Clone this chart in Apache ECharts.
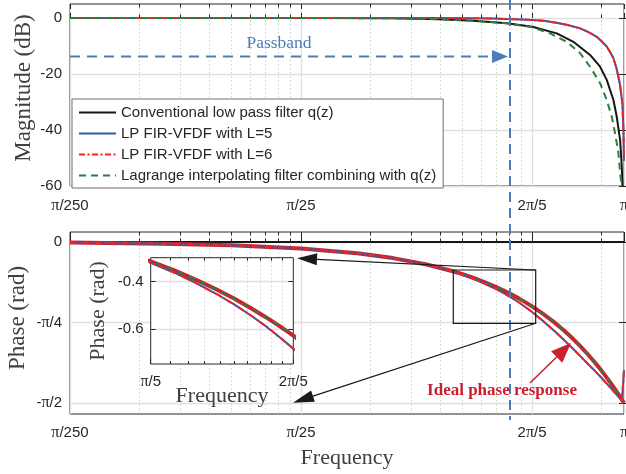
<!DOCTYPE html>
<html><head><meta charset="utf-8">
<script src="https://cdn.jsdelivr.net/npm/echarts@6/dist/echarts.min.js"></script>
<style>html,body{margin:0;padding:0;background:#fff}#c{width:626px;height:474px}</style>
</head><body><div id="c"></div>
<script>
// ---------------- data (frequencies as fractions of pi) ----------------
const xTickFreqs = [0.004, 0.04, 0.4, 1];
const xTickLabels = ['π/250', 'π/25', '2π/5', 'π'];
const magTickValues = [-60, -40, -20, 0];
const phaseTickValues = [-1.5708, -0.7854, 0];
const phaseTickLabels = ['-π/2', '-π/4', '0'];
const insetXTickFreqs = [0.2, 0.4];
const insetXTickLabels = ['π/5', '2π/5'];
const insetYTickValues = [-0.6, -0.4];

const nameConv = 'Conventional low pass filter q(z)';
const nameL5 = 'LP FIR-VFDF with L=5';
const nameL6 = 'LP FIR-VFDF with L=6';
const nameLag = 'Lagrange interpolating filter combining with q(z)';
const nameIdeal = 'Ideal phase response';

// magnitude (dB)
const magFreqConv = [0.004, 0.05, 0.1, 0.16, 0.223, 0.311, 0.401, 0.512, 0.604, 0.713, 0.788, 0.842, 0.9, 0.93, 0.962, 0.978, 0.985, 0.995];
const magConv     = [0, 0, -0.1, -0.46, -1.0, -1.9, -3.1, -5.5, -8.5, -13.2, -17.4, -22.1, -29.3, -35.2, -43.6, -53, -60, -75];
const magFreqVfdf = [0.004, 0.05, 0.1, 0.16, 0.22, 0.27, 0.31, 0.36, 0.40, 0.45, 0.51, 0.57, 0.646, 0.70, 0.762, 0.80, 0.842, 0.875, 0.90, 0.93, 0.962, 0.985, 0.995, 0.999];
const magL5       = [0, 0, 0, 0, -0.05, -0.2, -0.36, -0.5, -0.7, -1.0, -1.7, -2.5, -3.7, -5.0, -6.7, -8.3, -10.2, -12.5, -14.4, -18.2, -24, -31, -41, -51];
const magL6       = [0, 0, 0, 0, -0.05, -0.2, -0.36, -0.5, -0.7, -1.0, -1.7, -2.5, -3.7, -5.0, -6.7, -8.3, -10.2, -12.5, -14.4, -18.2, -24, -31, -41, -51];
const magFreqLag  = [0.004, 0.05, 0.1, 0.16, 0.223, 0.311, 0.401, 0.479, 0.565, 0.646, 0.713, 0.788, 0.842, 0.885, 0.915, 0.946, 0.962, 0.978, 0.99];
const magLag      = [0, 0, -0.1, -0.46, -1.0, -1.9, -3.3, -5.5, -8.5, -12.6, -17.4, -23.3, -29.3, -35.2, -41.2, -48.3, -55.5, -60, -70];

// phase (rad)
const phaseFreqConv = [0.004, 1];
const phaseConv     = [0, 0];
const phaseFreq  = [0.004, 0.01, 0.02, 0.04, 0.07, 0.1, 0.14, 0.18, 0.2, 0.225, 0.25, 0.275, 0.3, 0.325, 0.35, 0.375, 0.4, 0.45, 0.5, 0.55, 0.6, 0.65, 0.7, 0.75, 0.8, 0.85, 0.9, 0.95, 0.98, 1.0];
const phaseIdeal = [-0.006, -0.016, -0.031, -0.063, -0.110, -0.157, -0.220, -0.283, -0.314, -0.353, -0.393, -0.432, -0.471, -0.511, -0.550, -0.589, -0.628, -0.707, -0.785, -0.864, -0.942, -1.021, -1.100, -1.178, -1.257, -1.335, -1.414, -1.492, -1.539, -1.571];
const phaseLag   = [-0.006, -0.016, -0.031, -0.063, -0.110, -0.157, -0.220, -0.283, -0.314, -0.353, -0.393, -0.432, -0.471, -0.511, -0.550, -0.589, -0.628, -0.707, -0.785, -0.864, -0.942, -1.021, -1.100, -1.178, -1.257, -1.335, -1.414, -1.492, -1.539, -1.571];
const phaseFreqVfdf = [0.004, 0.01, 0.02, 0.04, 0.07, 0.1, 0.14, 0.18, 0.2, 0.225, 0.25, 0.275, 0.3, 0.325, 0.35, 0.375, 0.4, 0.45, 0.5, 0.55, 0.6, 0.65, 0.7, 0.75, 0.8, 0.85, 0.9, 0.95, 0.98, 0.998, 1.0];
const phaseL5 = [-0.006, -0.016, -0.031, -0.063, -0.110, -0.157, -0.221, -0.287, -0.320, -0.363, -0.407, -0.451, -0.496, -0.542, -0.588, -0.636, -0.683, -0.777, -0.868, -0.956, -1.039, -1.118, -1.192, -1.260, -1.327, -1.392, -1.454, -1.512, -1.547, -1.566, -1.25];
const phaseL6 = [-0.006, -0.016, -0.031, -0.063, -0.110, -0.157, -0.221, -0.287, -0.320, -0.363, -0.407, -0.451, -0.496, -0.542, -0.588, -0.636, -0.683, -0.777, -0.868, -0.956, -1.039, -1.118, -1.192, -1.260, -1.327, -1.392, -1.454, -1.512, -1.547, -1.566, -1.25];

// ---------------- helpers ----------------
const LOG = Math.log10;
const pairs = (fs, vs) => fs.map((f, i) => [LOG(f), vs[i]]);
const piRich = s => s.replace(/π/g, '{p|π}');
const nearest = (arr, v) => { let bi = 0, bd = Infinity; arr.forEach((a, i) => { const d = Math.abs(a - v); if (d < bd) { bd = d; bi = i; } }); return bi; };

const INK = '#262626';
const xMin = LOG(xTickFreqs[0]), xMax = LOG(xTickFreqs[3]);
const majorX = xTickFreqs.map(LOG);
const minorX = [];
for (let k = 2; k <= 9; k++) { minorX.push(LOG(0.004 * k)); minorX.push(LOG(0.04 * k)); }
minorX.push(LOG(0.8));
const insMajorX = insetXTickFreqs.map(LOG);
const insMinorX = [];
for (let k = 11; k <= 19; k++) insMinorX.push(LOG(0.02 * k));

const richP = { p: { fontFamily: 'Liberation Serif', fontSize: 16, color: INK } };

function xAx(o) {
  return {
    type: 'value', gridIndex: o.grid, min: o.min, max: o.max, position: o.pos || 'bottom', z: o.z || 0,
    axisLine: { show: false },
    axisTick: { show: true, inside: true, length: o.tick || 5, customValues: o.values, lineStyle: { color: INK, width: 1 } },
    axisLabel: o.labels ? { show: true, customValues: o.values, margin: o.margin || 12, color: INK, fontFamily: 'Liberation Sans', fontSize: o.fs || 15,
      formatter: v => piRich(o.labels[nearest(o.values, v)]), rich: richP } : { show: false },
    splitLine: o.split ? { show: true, lineStyle: o.split } : { show: false },
    name: o.name || '', nameLocation: 'middle', nameGap: o.nameGap || 0, nameMoveOverlap: false,
    nameTextStyle: { fontFamily: 'Liberation Serif', fontSize: o.nameSize || 22, color: '#404040', padding: o.namePad || 0 }
  };
}
function yAx(o) {
  return {
    type: 'value', gridIndex: o.grid, min: o.min, max: o.max, position: o.pos || 'left', z: o.z || 0,
    axisLine: { show: false },
    axisTick: { show: true, inside: true, length: 5, customValues: o.values, lineStyle: { color: INK, width: 1 } },
    axisLabel: o.fmt ? { show: true, customValues: o.values, margin: o.margin || 8, color: INK, fontFamily: 'Liberation Sans', fontSize: 15,
      formatter: o.fmt, rich: richP } : { show: false },
    splitLine: o.split ? { show: true, lineStyle: o.split } : { show: false },
    name: o.name || '', nameLocation: 'middle', nameGap: o.nameGap || 0, nameMoveOverlap: false,
    nameTextStyle: { fontFamily: 'Liberation Serif', fontSize: o.nameSize || 23, color: '#404040', padding: o.namePad || 0 }
  };
}
const majSplit = { color: '#e0e0e0', width: 1.3, type: 'solid' };
const minSplit = { color: '#cdcdcd', width: 1, type: [1.5, 2.5] };

const grids = [
  { left: 70, top: 4, width: 554, height: 182 },
  { left: 70, top: 232, width: 554, height: 182 },
  { left: 150.7, top: 257.7, width: 142.6, height: 106.3, z: 1 }
].map(g => Object.assign({ show: true, borderColor: INK, borderWidth: 1, backgroundColor: '#fff', containLabel: false, outerBoundsMode: 'none' }, g));

const xAxes = [];
const yAxes = [];
// top grid: x 0..3, y 0..1
xAxes.push(xAx({ grid: 0, min: xMin, max: xMax, values: majorX, labels: xTickLabels, split: majSplit, margin: 12 }));
xAxes.push(xAx({ grid: 0, min: xMin, max: xMax, values: minorX, split: minSplit, tick: 3.5 }));
xAxes.push(xAx({ grid: 0, min: xMin, max: xMax, values: majorX, pos: 'top' }));
xAxes.push(xAx({ grid: 0, min: xMin, max: xMax, values: minorX, pos: 'top', tick: 3.5 }));
yAxes.push(yAx({ grid: 0, min: -60, max: 5, values: magTickValues, fmt: v => String(Math.round(v)), split: majSplit, name: 'Magnitude (dB)', nameGap: 35, namePad: [0, 0, 0, 14] }));
yAxes.push(yAx({ grid: 0, min: -60, max: 5, values: magTickValues, pos: 'right' }));
// bottom grid: x 4..7, y 2..3
xAxes.push(xAx({ grid: 1, min: xMin, max: xMax, values: majorX, labels: xTickLabels, split: majSplit, margin: 11, name: 'Frequency', nameGap: 33 }));
xAxes.push(xAx({ grid: 1, min: xMin, max: xMax, values: minorX, split: minSplit, tick: 3.5 }));
xAxes.push(xAx({ grid: 1, min: xMin, max: xMax, values: majorX, pos: 'top' }));
xAxes.push(xAx({ grid: 1, min: xMin, max: xMax, values: minorX, pos: 'top', tick: 3.5 }));
yAxes.push(yAx({ grid: 1, min: -1.678, max: 0.0976, values: phaseTickValues, fmt: v => piRich(phaseTickLabels[nearest(phaseTickValues, v)]), split: majSplit, name: 'Phase (rad)', nameGap: 41, namePad: [0, 0, 0, 10] }));
yAxes.push(yAx({ grid: 1, min: -1.678, max: 0.0976, values: phaseTickValues, pos: 'right' }));
// inset: x 8..10, y 4..5
const iMin = insMajorX[0], iMax = insMajorX[1];
xAxes.push(xAx({ grid: 2, min: iMin, max: iMax, values: insMajorX, labels: insetXTickLabels, margin: 10, name: 'Frequency', nameGap: 21, nameSize: 22, z: 1 }));
xAxes.push(xAx({ grid: 2, min: iMin, max: iMax, values: insMinorX, split: minSplit, tick: 3, z: 1 }));
xAxes.push(xAx({ grid: 2, min: iMin, max: iMax, values: insMinorX, pos: 'top', tick: 3, z: 1 }));
yAxes.push(yAx({ grid: 2, min: -0.748, max: -0.2985, values: insetYTickValues, fmt: v => v.toFixed(1), split: majSplit, margin: 7, name: 'Phase (rad)', nameGap: 41, nameSize: 22, z: 1 }));
yAxes.push(yAx({ grid: 2, min: -0.748, max: -0.2985, values: insetYTickValues, pos: 'right', z: 1 }));

const C_BLACK = '#161616', C_BLUE = '#2a5caa', C_RED = '#ff1f1f', C_GREEN = '#2e7d3a', C_IDEAL = '#d0202e';
const DASH = [7, 5], DASHDOT = [6, 2.5, 2, 2.5];
function ln(name, xi, yi, data, color, width, type, z) {
  return { type: 'line', name, xAxisIndex: xi, yAxisIndex: yi, data, symbol: 'none', silent: true, clip: true, z: z || 2,
    lineStyle: { color, width, type: type || 'solid' }, itemStyle: { color }, animation: false };
}
const series = [
  ln(nameConv, 0, 0, pairs(magFreqConv, magConv), C_BLACK, 2),
  ln(nameL5, 0, 0, pairs(magFreqVfdf, magL5), C_BLUE, 2),
  ln(nameL6, 0, 0, pairs(magFreqVfdf, magL6), C_RED, 2, DASHDOT),
  ln(nameLag, 0, 0, pairs(magFreqLag, magLag), C_GREEN, 2, DASH),

  ln(nameConv, 4, 2, pairs(phaseFreqConv, phaseConv), C_BLACK, 2),
  ln(nameIdeal, 4, 2, pairs(phaseFreq, phaseIdeal), C_IDEAL, 4),
  ln(nameLag, 4, 2, pairs(phaseFreq, phaseLag), C_GREEN, 2, DASH),
  ln(nameL5, 4, 2, pairs(phaseFreqVfdf, phaseL5), C_BLUE, 2),
  ln(nameL6, 4, 2, pairs(phaseFreqVfdf, phaseL6), C_RED, 2, DASHDOT),

  ln(nameIdeal, 8, 4, pairs(phaseFreq, phaseIdeal), C_IDEAL, 4, 'solid', 5),
  ln(nameLag, 8, 4, pairs(phaseFreq, phaseLag), C_GREEN, 2, DASH, 5),
  ln(nameL5, 8, 4, pairs(phaseFreqVfdf, phaseL5), C_BLUE, 2, 'solid', 5),
  ln(nameL6, 8, 4, pairs(phaseFreqVfdf, phaseL6), C_RED, 2, DASHDOT, 5)
];

// ---------------- annotations ----------------
function arrow(x1, y1, x2, y2, color, width, hl, hw, dash) {
  const dx = x2 - x1, dy = y2 - y1, L = Math.hypot(dx, dy), ux = dx / L, uy = dy / L;
  const bx = x2 - ux * hl, by = y2 - uy * hl;
  return [
    { type: 'line', z: 20, silent: true, shape: { x1, y1, x2: bx, y2: by }, style: { stroke: color, lineWidth: width, lineDash: dash || null } },
    { type: 'polygon', z: 20, silent: true, shape: { points: [[x2, y2], [bx - uy * hw, by + ux * hw], [bx + uy * hw, by - ux * hw]] }, style: { fill: color } }
  ];
}
const C_PB = '#4a7ebb';
const graphics = [
  { type: 'line', z: 20, silent: true, shape: { x1: 510, y1: 0, x2: 510, y2: 420 }, style: { stroke: C_PB, lineWidth: 2, lineDash: [10, 6] } },
  ...arrow(70, 56.5, 508, 56.5, C_PB, 2, 16, 6.5, [10, 7]),
  { type: 'text', z: 20, silent: true, x: 279, y: 43, style: { text: 'Passband', fill: C_PB, font: '17.5px "Liberation Serif"', textAlign: 'center', textVerticalAlign: 'middle' } },
  { type: 'rect', z: 20, silent: true, shape: { x: 453.3, y: 270, width: 82.4, height: 53.3 }, style: { fill: null, stroke: '#1a1a1a', lineWidth: 1.2 } },
  ...arrow(535.7, 270, 297, 258.3, '#1a1a1a', 1.2, 20, 6),
  ...arrow(535.7, 323.3, 293, 402.7, '#1a1a1a', 1.2, 21, 6),
  ...arrow(530, 383, 571, 343, '#c8202f', 1.6, 20, 8),
  { type: 'text', z: 20, silent: true, x: 502, y: 391, style: { text: 'Ideal phase response', fill: '#c8202f', font: 'bold 17px "Liberation Serif"', textAlign: 'center', textVerticalAlign: 'middle' } }
];

const chart = echarts.init(document.getElementById('c'), null, { renderer: 'canvas' });
chart.setOption({
  animation: false,
  backgroundColor: '#fff',
  grid: grids,
  xAxis: xAxes,
  yAxis: yAxes,
  legend: {
    show: true, data: [nameConv, nameL5, nameL6, nameLag], orient: 'vertical', left: 72, top: 99,
    itemWidth: 37, itemHeight: 14, itemGap: 6, padding: [6, 7, 5, 6], selectedMode: false,
    backgroundColor: '#fff', borderColor: '#6e6e6e', borderWidth: 1, borderRadius: 0, z: 10,
    itemStyle: { opacity: 0, borderWidth: 0 },
    textStyle: { fontFamily: 'Liberation Sans', fontSize: 15, color: INK }
  },
  series,
  graphic: graphics
});
</script></body></html>
